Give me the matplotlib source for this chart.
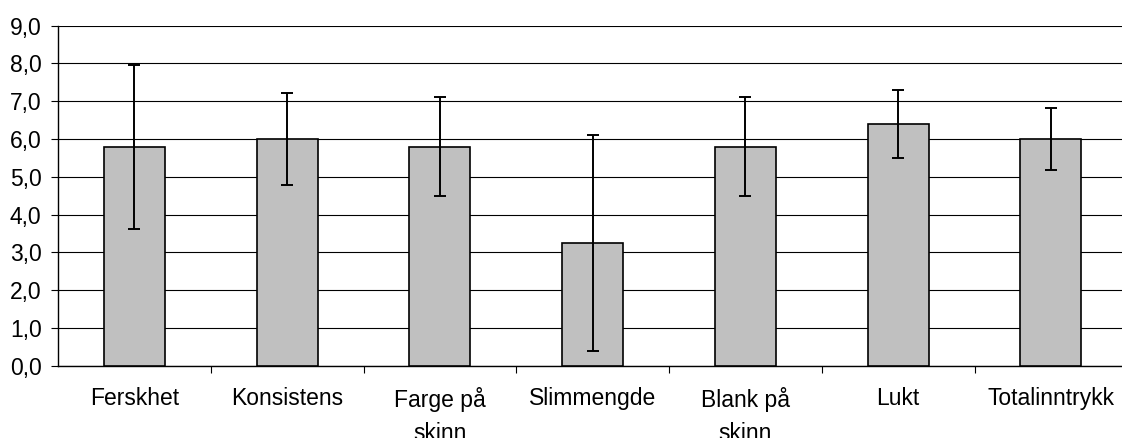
"""
Sensorisk vurdering - stolpediagram med standardavvik
"""

import matplotlib.pyplot as plt
import numpy as np
from matplotlib.ticker import FixedLocator, FuncFormatter

# ============================================================================
# Data
# ============================================================================
categories = ['Ferskhet', 'Konsistens', 'Farge på\nskinn', 'Slimmengde',
              'Blank på\nskinn', 'Lukt', 'Totalinntrykk']
means = [5.8, 6.0, 5.8, 3.25, 5.8, 6.4, 6.0]
errors = [2.17, 1.22, 1.3, 2.87, 1.3, 0.9, 0.82]
y_ticks = [0, 1, 2, 3, 4, 5, 6, 7, 8, 9]

# ============================================================================
# Stil
# ============================================================================
plt.rcParams.update({
    'font.family': ['Liberation Sans', 'DejaVu Sans'],
    'font.size': 16.5,
})


def main():
    fig = plt.figure(figsize=(11.22, 4.38), dpi=100)
    ax = fig.add_axes([0.0517, 0.165, 0.953, 0.7763])

    x = np.arange(len(categories))
    ax.bar(x, means, width=0.40, color='#c0c0c0', edgecolor='black',
           linewidth=1.2, zorder=3)
    ax.errorbar(x, means, yerr=errors, fmt='none', ecolor='black',
                elinewidth=1.4, capsize=4.5, capthick=1.4, zorder=4)

    ax.set_xlim(-0.5, len(categories) - 0.5)
    ax.set_ylim(0, 9)
    ax.set_yticks(y_ticks)
    ax.yaxis.set_major_formatter(FuncFormatter(lambda v, p: f'{v:.1f}'.replace('.', ',')))
    ax.grid(axis='y', color='black', linewidth=0.8, zorder=0)

    # kategorietiketter midt under stolpene, tick-streker mellom kategoriene
    ax.set_xticks(x)
    ax.set_xticklabels(categories, linespacing=1.55)
    ax.tick_params(axis='x', which='major', length=0, pad=15.5)
    ax.xaxis.set_minor_locator(FixedLocator(np.arange(0.5, len(categories) - 0.5, 1.0)))
    ax.tick_params(axis='x', which='minor', length=5, width=0.8, direction='out')
    ax.tick_params(axis='y', length=4.8, width=0.8, pad=7)

    for side in ['top', 'right']:
        ax.spines[side].set_visible(False)
    ax.spines['left'].set_linewidth(1.0)
    ax.spines['bottom'].set_linewidth(1.0)

    fig.savefig('out.png', dpi=100)
    plt.close(fig)


if __name__ == '__main__':
    main()
